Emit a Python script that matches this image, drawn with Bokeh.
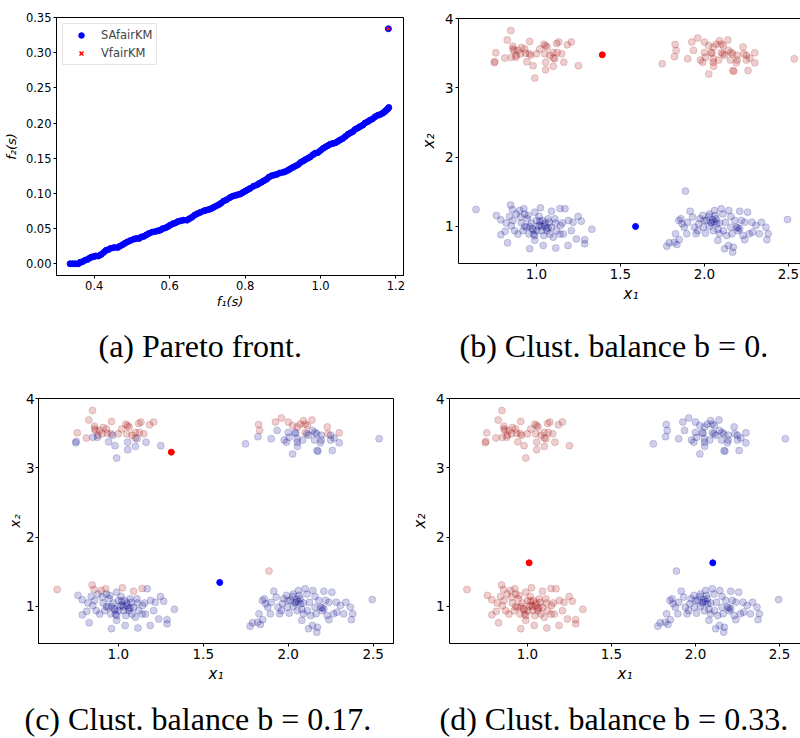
from bokeh.plotting import figure
from bokeh.layouts import column, row
from bokeh.models import FixedTicker, LinearAxis, Range1d, PrintfTickFormatter
from bokeh.core.properties import value
from bokeh.embed import file_html
from bokeh.resources import INLINE

# ---------------- (a) Pareto front data ----------------
pf_f1 = [0.336, 0.343, 0.350, 0.358, 0.363, 0.369, 0.376, 0.382, 0.388, 0.393,
         0.398, 0.404, 0.411, 0.418, 0.425, 0.431, 0.437, 0.444, 0.453, 0.462,
         0.468, 0.475, 0.481, 0.488, 0.496, 0.505, 0.512, 0.519, 0.525, 0.532,
         0.538, 0.545, 0.554, 0.563, 0.570, 0.576, 0.582, 0.589, 0.596, 0.602,
         0.609, 0.615, 0.622, 0.629, 0.637, 0.646, 0.652, 0.659, 0.666, 0.673,
         0.681, 0.690, 0.696, 0.703, 0.709, 0.716, 0.723, 0.730, 0.736, 0.743,
         0.751, 0.760, 0.767, 0.774, 0.780, 0.787, 0.793, 0.800, 0.806, 0.813,
         0.822, 0.831, 0.837, 0.844, 0.850, 0.857, 0.863, 0.870, 0.877, 0.884,
         0.892, 0.901, 0.907, 0.914, 0.920, 0.927, 0.934, 0.941, 0.947, 0.954,
         0.960, 0.967, 0.973, 0.980, 0.986, 0.993, 1.000, 1.007, 1.013, 1.020,
         1.026, 1.033, 1.040, 1.046, 1.052, 1.059, 1.066, 1.073, 1.079, 1.086,
         1.092, 1.099, 1.105, 1.112, 1.118, 1.125, 1.131, 1.138, 1.145, 1.152,
         1.158, 1.165, 1.170, 1.174, 1.178, 1.181, 1.180]
pf_f2 = [0.000, 0.000, 0.000, 0.000, 0.002, 0.003, 0.005, 0.006, 0.008, 0.0095,
         0.010, 0.011, 0.011, 0.013, 0.016, 0.019, 0.020, 0.022, 0.023, 0.023,
         0.025, 0.027, 0.029, 0.031, 0.033, 0.035, 0.036, 0.036, 0.038, 0.039,
         0.041, 0.043, 0.045, 0.046, 0.047, 0.048, 0.050, 0.051, 0.053, 0.055,
         0.057, 0.058, 0.060, 0.061, 0.062, 0.062, 0.064, 0.066, 0.069, 0.071,
         0.073, 0.075, 0.076, 0.077, 0.078, 0.080, 0.082, 0.084, 0.086, 0.089,
         0.091, 0.094, 0.096, 0.097, 0.098, 0.099, 0.101, 0.103, 0.105, 0.107,
         0.110, 0.112, 0.114, 0.116, 0.118, 0.120, 0.123, 0.125, 0.126, 0.127,
         0.129, 0.130, 0.131, 0.133, 0.135, 0.137, 0.139, 0.141, 0.144, 0.146,
         0.148, 0.150, 0.152, 0.155, 0.157, 0.158, 0.161, 0.164, 0.166, 0.168,
         0.170, 0.171, 0.172, 0.174, 0.176, 0.178, 0.181, 0.184, 0.186, 0.188,
         0.191, 0.193, 0.195, 0.197, 0.200, 0.202, 0.204, 0.206, 0.209, 0.211,
         0.212, 0.214, 0.216, 0.218, 0.220, 0.222, 0.334]
vf_f1 = [1.180]
vf_f2 = [0.334]

a_xticks = [0.4, 0.6, 0.8, 1.0, 1.2]
a_yticks = [0.00, 0.05, 0.10, 0.15, 0.20, 0.25, 0.30, 0.35]

# ---------------- (b)-(d) point clouds ----------------
tl_x = [0.848, 0.826, 0.758, 0.752, 0.749, 0.812, 0.860, 0.860, 0.867, 0.880,
        0.877, 0.850, 0.890, 0.930, 0.935, 0.960, 0.957, 0.966, 0.943, 0.980,
        0.990, 1.000, 1.020, 1.044, 1.055, 1.063, 1.050, 1.055, 1.055, 1.100,
        1.100, 1.110, 1.100, 1.123, 1.133, 1.150, 1.163, 1.184, 1.208, 1.250,
        1.080, 1.120, 0.905, 0.911]
tl_y = [3.827, 3.690, 3.505, 3.380, 3.360, 3.430, 3.600, 3.560, 3.540, 3.470,
        3.440, 3.440, 3.540, 3.560, 3.500, 3.670, 3.490, 3.470, 3.375, 3.320,
        3.140, 3.490, 3.560, 3.630, 3.610, 3.590, 3.490, 3.370, 3.260, 3.430,
        3.510, 3.420, 3.310, 3.510, 3.660, 3.490, 3.370, 3.620, 3.660, 3.320,
        3.470, 3.640, 3.490, 3.580]

tr_x = [1.749, 1.826, 1.832, 1.822, 1.900, 1.925, 1.935, 1.960, 1.976, 1.990,
        2.000, 2.000, 2.026, 2.040, 2.045, 2.053, 2.055, 2.053, 2.055, 2.026,
        2.070, 2.090, 2.085, 2.100, 2.100, 2.110, 2.113, 2.120, 2.140, 2.143,
        2.155, 2.158, 2.168, 2.170, 2.175, 2.190, 2.195, 2.195, 2.230, 2.234,
        2.250, 2.250, 2.260, 2.270, 2.300, 2.300, 2.535, 2.006]
tr_y = [3.346, 3.625, 3.540, 3.450, 3.420, 3.660, 3.540, 3.720, 3.400, 3.370,
        3.660, 3.510, 3.610, 3.510, 3.500, 3.420, 3.590, 3.370, 3.310, 3.200,
        3.630, 3.680, 3.400, 3.630, 3.510, 3.490, 3.610, 3.470, 3.690, 3.540,
        3.400, 3.510, 3.490, 3.250, 3.240, 3.360, 3.470, 3.400, 3.590, 3.490,
        3.470, 3.400, 3.250, 3.430, 3.505, 3.360, 3.420, 3.440]

bl_x = [0.640, 0.762, 0.788, 0.788, 0.814, 0.828, 0.846, 0.857, 0.820, 0.840,
        0.850, 0.860, 0.870, 0.880, 0.890, 0.900, 0.905, 0.910, 0.920, 0.925,
        0.930, 0.945, 0.940, 0.956, 0.960, 0.970, 0.976, 0.984, 0.990, 0.990,
        1.000, 1.010, 1.016, 1.020, 1.024, 1.030, 1.040, 1.044, 1.050, 1.060,
        1.063, 1.070, 1.080, 1.090, 1.100, 1.110, 1.113, 1.115, 1.120, 1.140,
        1.143, 1.154, 1.170, 1.160, 1.188, 1.190, 1.208, 1.218, 1.238, 1.248,
        1.267, 1.287, 1.287, 1.330, 0.990, 0.950, 1.036, 1.075, 1.000, 1.090,
        1.140, 0.960, 1.020, 1.050, 0.980, 1.030, 1.070, 0.930]
bl_y = [1.245, 1.160, 1.096, 0.880, 0.930, 0.764, 1.310, 1.245, 1.050, 1.145,
        1.010, 1.087, 0.940, 1.180, 0.890, 1.230, 1.135, 1.050, 0.940, 1.255,
        1.180, 1.110, 0.990, 0.890, 0.680, 1.050, 0.970, 0.890, 0.870, 0.800,
        1.087, 1.005, 1.145, 1.077, 1.270, 0.940, 0.726, 0.870, 1.014, 0.976,
        0.940, 1.110, 0.890, 1.220, 0.846, 1.110, 1.050, 0.690, 0.940, 1.260,
        1.014, 1.050, 1.255, 0.890, 0.726, 1.087, 0.940, 1.060, 0.820, 1.145,
        1.077, 0.810, 0.750, 0.960, 1.207, 1.160, 1.087, 1.060, 0.940, 0.990,
        0.890, 1.000, 1.020, 1.050, 0.950, 1.000, 0.980, 1.000]

br_x = [1.887, 1.776, 1.790, 1.820, 1.836, 1.850, 1.828, 1.848, 1.860, 1.867,
        1.880, 1.895, 1.900, 1.915, 1.930, 1.940, 1.950, 1.960, 1.966, 1.974,
        1.990, 1.994, 2.006, 2.014, 2.026, 2.030, 2.040, 2.046, 2.053, 2.060,
        2.065, 2.070, 2.073, 2.080, 2.090, 2.100, 2.110, 2.113, 2.120, 2.125,
        2.133, 2.143, 2.145, 2.158, 2.164, 2.168, 2.172, 2.180, 2.190, 2.200,
        2.210, 2.210, 2.220, 2.230, 2.240, 2.257, 2.267, 2.283, 2.287, 2.307,
        2.327, 2.340, 2.366, 2.372, 2.380, 2.495, 2.000, 2.090, 2.158, 2.240,
        2.050, 2.060, 2.200, 2.030, 2.080]
br_y = [1.510, 0.716, 0.764, 0.774, 0.740, 0.810, 0.894, 1.087, 1.110, 1.040,
        0.990, 0.894, 1.060, 1.220, 1.135, 0.990, 0.894, 0.940, 1.040, 1.110,
        1.160, 0.990, 0.904, 1.087, 1.145, 1.180, 1.050, 1.060, 0.940, 1.230,
        1.160, 1.110, 1.040, 0.800, 0.894, 1.255, 1.180, 0.940, 0.680, 1.060,
        0.870, 0.726, 1.230, 1.145, 0.894, 0.630, 0.700, 1.087, 0.990, 0.940,
        0.966, 1.220, 1.087, 0.870, 0.810, 1.207, 0.894, 1.060, 0.918, 1.014,
        0.894, 1.060, 0.990, 0.810, 0.894, 1.100, 1.087, 1.050, 0.990, 1.060,
        1.100, 1.070, 0.980, 1.000, 0.960]

# cluster colour per panel ("r" = red cluster, "b" = blue cluster)
assign_b = {"tl": "r", "tr": "r", "bl": "b", "br": "b"}
assign_d = {"tl": "r", "tr": "b", "bl": "r", "br": "b"}
# panel (c): indices of points assigned to the red cluster
c_red_tl = [0, 1, 2, 5, 6, 7, 8, 9, 12, 13, 14, 15, 16, 21, 22, 23, 24, 25, 26,
            29, 30, 33, 34, 35, 37, 38, 40, 41, 42, 43]
c_red_tr = [1, 2, 5, 7, 10, 12, 16, 20, 21, 23, 24, 26, 28, 38, 39, 44]
c_red_bl = [0, 6, 7, 15, 19, 34, 43, 49]
c_red_br = [0]

# cluster centres (red, blue)
cen_b = {"x": [1.392, 1.590], "y": [3.476, 1.000]}
cen_c = {"x": [1.312, 1.597], "y": [3.226, 1.346]}
cen_d = {"x": [1.010, 2.103], "y": [1.630, 1.630]}

s_xticks = [1.0, 1.5, 2.0, 2.5]
s_yticks = [1, 2, 3, 4]

captions = ["(a) Pareto front.", "(b) Clust. balance b = 0.",
            "(c) Clust. balance b = 0.17.", "(d) Clust. balance b = 0.33."]

PT = {"r": "#a00000", "b": "#00008b"}
TICK_FONT = "DejaVu Sans"
CAP_FONT = "Liberation Serif"


def no_align(p):
    if "frame_align" in p.properties():
        p.frame_align = False


def style(p, xt, yt, xfmt, yfmt, fs, lfs, label_x, label_y, lab_gap, lab_std,
          xlab_gap, ylfs):
    p.xgrid.visible = False
    p.ygrid.visible = False
    p.background_fill_color = "white"
    p.border_fill_color = "white"
    p.xaxis.ticker = FixedTicker(ticks=xt)
    p.yaxis.ticker = FixedTicker(ticks=yt)
    p.xaxis.formatter = PrintfTickFormatter(format=xfmt)
    p.yaxis.formatter = PrintfTickFormatter(format=yfmt)
    for ax in (p.xaxis[0], p.yaxis[0]):
        ax.major_tick_in = 0
        ax.major_tick_out = 3
        ax.minor_tick_line_color = None
        ax.major_tick_line_color = "black"
        ax.axis_line_color = "black"
        ax.major_label_text_font = TICK_FONT
        ax.major_label_text_font_size = fs
        ax.major_label_text_color = "black"
        ax.major_label_standoff = 2
        ax.axis_label_text_font = TICK_FONT
        ax.axis_label_text_font_size = lfs
        ax.axis_label_text_font_style = "italic"
        ax.axis_label_text_color = "black"
        ax.axis_label_standoff = 4
    p.xaxis[0].axis_label_standoff = xlab_gap
    p.yaxis[0].axis_label_standoff = lab_gap
    p.yaxis[0].major_label_standoff = lab_std
    p.yaxis[0].axis_label_text_font_size = ylfs
    p.xaxis.axis_label = label_x
    p.yaxis.axis_label = label_y


def caption_fig(width, height, text, tx, ty):
    c = figure(width=width, height=height, x_range=Range1d(0, width),
               y_range=Range1d(0, height), x_axis_type=None, y_axis_type=None,
               output_backend="svg", toolbar_location=None, min_border=0)
    c.outline_line_color = None
    c.background_fill_color = "white"
    c.border_fill_color = "white"
    c.text(x=[tx], y=[ty], text=[text], text_font=value(CAP_FONT),
           text_font_size="32px", text_baseline="middle", text_align="left",
           text_color="black")
    no_align(c)
    return c


# ---------------- panel (a) ----------------
pa = figure(width=408, height=320, frame_width=347, frame_height=258,
            x_range=Range1d(0.30, 1.22), y_range=Range1d(-0.0167, 0.35),
            output_backend="svg", toolbar_location=None,
            min_border_left=53, min_border_right=8, min_border_top=17,
            min_border_bottom=45)
no_align(pa)
pa.outline_line_color = "black"
pa.outline_line_width = 1
style(pa, a_xticks, a_yticks, "%.1f", "%.2f", "11.5px", "13px", "f₁(s)", "f₂(s)",
      4, 2, 1, "13px")
pa.scatter(pf_f1, pf_f2, size=6, color="blue", legend_label="SAfairKM")
pa.scatter(vf_f1, vf_f2, marker="x", size=5, line_color="red", line_width=1.5,
           legend_label="VfairKM")
lg = pa.legend[0]
lg.location = "top_left"
lg.margin = 6
lg.padding = 4
lg.spacing = 4
lg.label_height = 14
lg.glyph_height = 14
lg.glyph_width = 28
lg.label_standoff = 6
lg.label_text_font = TICK_FONT
lg.label_text_font_size = "11.5px"
lg.border_line_color = "#cccccc"
lg.border_line_width = 1
lg.background_fill_alpha = 0.8


def build_panel(fw, fh, mbl, mbr, mbt, mbb, xr, yr, colmap, cen,
                full_outline, lab_gap, lab_std, ylfs):
    p = figure(width=fw + mbl + mbr, height=fh + mbt + mbb,
               frame_width=fw, frame_height=fh,
               x_range=Range1d(*xr), y_range=Range1d(*yr),
               output_backend="svg", toolbar_location=None,
               min_border_left=mbl, min_border_right=mbr, min_border_top=mbt,
               min_border_bottom=mbb)
    no_align(p)
    style(p, s_xticks, s_yticks, "%.1f", "%d", "13.5px", "15px", "x₁", "x₂",
          lab_gap, lab_std, 3, ylfs)
    if full_outline:
        p.outline_line_color = "black"
        p.outline_line_width = 1
    else:
        p.outline_line_color = None
        top = LinearAxis(ticker=FixedTicker(ticks=[]), major_tick_line_color=None,
                         minor_tick_line_color=None,
                         major_label_text_font_size="0px",
                         axis_line_color="black")
        p.add_layout(top, "above")
    xs, ys, cs = [], [], []
    for key, cx, cy in (("tl", tl_x, tl_y), ("tr", tr_x, tr_y),
                        ("bl", bl_x, bl_y), ("br", br_x, br_y)):
        labs = colmap(key, len(cx))
        xs += cx
        ys += cy
        cs += [PT[l] for l in labs]
    p.scatter(xs, ys, size=7, fill_color=cs, line_color=cs, fill_alpha=0.19,
              line_alpha=0.17, line_width=1)
    p.scatter(cen["x"], cen["y"], size=6, color=["red", "blue"])
    return p


def map_fixed(assign):
    return lambda key, n: [assign[key]] * n


c_red = {"tl": c_red_tl, "tr": c_red_tr, "bl": c_red_bl, "br": c_red_br}


def map_c(key, n):
    return ["r" if i in c_red[key] else "b" for i in range(n)]


pb = build_panel(345, 245, 47, 0, 18, 57, (0.536, 2.59), (0.466, 4.0),
                 map_fixed(assign_b), cen_b, False, 4, 2, "15px")
pc = build_panel(355, 245, 38, 7, 8, 47, (0.53, 2.62), (0.466, 4.0),
                 map_c, cen_c, True, 0, 1, "13.5px")
pd_ = build_panel(351, 245, 49, 0, 8, 47, (0.536, 2.625), (0.466, 4.0),
                  map_fixed(assign_d), cen_d, False, 4, 2, "15px")

ca = caption_fig(408, 70, captions[0], 98, 45)
cb = caption_fig(392, 70, captions[1], 51, 45)
cc = caption_fig(400, 48, captions[2], 24, 20)
cd = caption_fig(400, 48, captions[3], 39, 20)

layout = column(row(pa, pb), row(ca, cb), row(pc, pd_), row(cc, cd))
open("out.html", "w").write(file_html(layout, INLINE))
